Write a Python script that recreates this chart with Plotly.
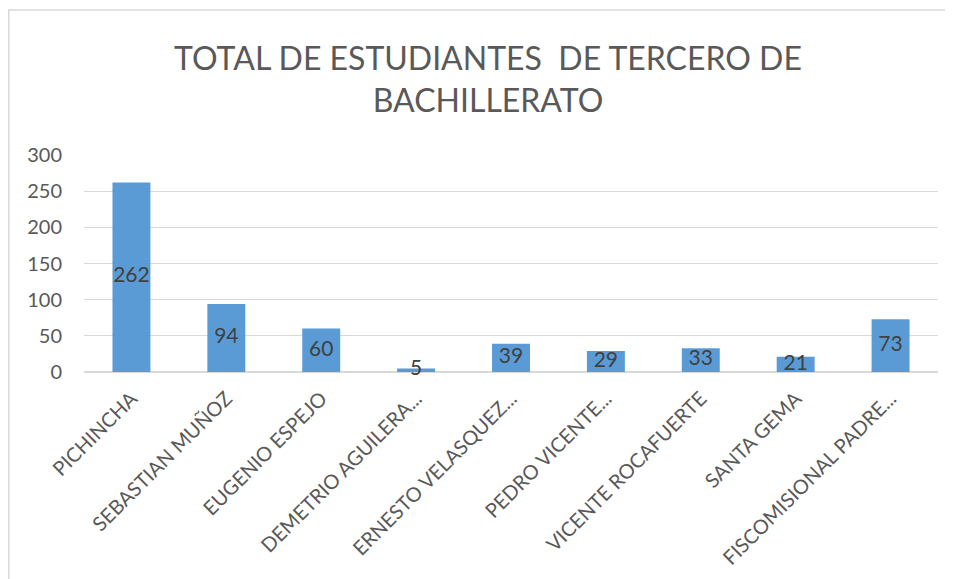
import plotly.graph_objects as go

categories = ["PICHINCHA", "SEBASTIAN MUÑOZ", "EUGENIO ESPEJO", "DEMETRIO AGUILERA...",
              "ERNESTO VELASQUEZ...", "PEDRO VICENTE...", "VICENTE ROCAFUERTE",
              "SANTA GEMA", "FISCOMISIONAL PADRE..."]
values = [262, 94, 60, 5, 39, 29, 33, 21, 73]
y_ticks = [0, 50, 100, 150, 200, 250, 300]
title_text = "TOTAL DE ESTUDIANTES &nbsp;DE TERCERO DE<br>BACHILLERATO"

FONT = "Lato"
W, H = 953, 579
OFF = 8  # page body margin offset
L, R, T, B = 84 - OFF, 15 + OFF, 155 - OFF, 207 + OFF

fig = go.Figure()
fig.add_trace(go.Bar(x=categories, y=values, marker=dict(color="#5b9bd5", line=dict(width=0)),
                     width=0.4, hoverinfo="skip"))
fig.add_trace(go.Scatter(x=categories, y=[v / 2 for v in values], mode="text",
                         text=[str(v) for v in values], textposition="middle center",
                         textfont=dict(family=FONT, size=21, color="#404040"),
                         hoverinfo="skip", cliponaxis=False))

plot_h = H - T - B
plot_w = W - L - R
fig.add_shape(type="rect", xref="paper", yref="paper",
              x0=(0.8 - L) / plot_w, x1=(W + 20 - L) / plot_w,
              y0=-(H + 20 - (H - B)) / plot_h, y1=((H - B) - 2) / plot_h,
              line=dict(color="#d9d9d9", width=1.5), fillcolor="rgba(0,0,0,0)", layer="below")

fig.update_layout(
    width=W, height=H,
    margin=dict(l=L, r=R, t=T, b=B, autoexpand=False),
    paper_bgcolor="white", plot_bgcolor="white",
    showlegend=False,
    title=dict(text=title_text, x=480 / W, xanchor="center", y=1 - 62 / H, yanchor="middle",
               yref="container",
               font=dict(family=FONT, size=32, color="#595959")),
    xaxis=dict(tickangle=-45, tickfont=dict(family=FONT, size=20, color="#595959"),
               showgrid=False, showline=False, ticks="", fixedrange=True,
               automargin=False, ticklabelstandoff=10),
    yaxis=dict(range=[0, 300], tickvals=y_ticks, tickfont=dict(family=FONT, size=20, color="#595959"),
               showgrid=True, gridcolor="#d9d9d9", gridwidth=1, zeroline=True,
               zerolinecolor="#d9d9d9", zerolinewidth=1.5, showline=False, ticks="",
               automargin=False, ticklabelstandoff=21, fixedrange=True),
)
fig.write_html("out.html")
